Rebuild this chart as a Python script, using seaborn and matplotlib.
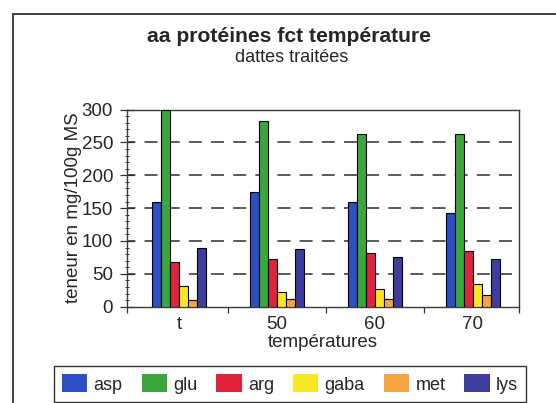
import matplotlib
matplotlib.use("Agg")
import matplotlib.pyplot as plt
from matplotlib.patches import Rectangle
from matplotlib.ticker import MultipleLocator, FixedLocator
import seaborn as sns
import pandas as pd

# amino acid contents (mg/100g MS) per treatment temperature
categories = ["t", "50", "60", "70"]
asp = [160, 174, 159, 142]
glu = [300, 283, 263, 262]
arg = [68, 72, 82, 84]
gaba = [31, 23, 27, 34]
met = [10, 12, 12, 18]
lys = [90, 88, 75, 72]

series = {"asp": asp, "glu": glu, "arg": arg, "gaba": gaba, "met": met, "lys": lys}
colors = ["#2c4fc6", "#3aa63c", "#e0233c", "#f8e824", "#f4a440", "#3d3d9e"]

rows = []
for name, vals in series.items():
    for cat, v in zip(categories, vals):
        rows.append({"temp": cat, "acide": name, "teneur": v})
df = pd.DataFrame(rows)

sns.set_theme(style="white")
plt.rcParams["font.family"] = ["Liberation Sans", "DejaVu Sans"]

W, H = 556, 403
fig = plt.figure(figsize=(W / 100, H / 100), dpi=100)
fig.patch.set_facecolor("white")

# chart area border (runs off the right and bottom edges)
fig.patches.append(Rectangle((13 / W, -0.05), (575 - 13) / W, 1.05 - 14 / H,
                             transform=fig.transFigure, fill=False,
                             edgecolor="#333333", linewidth=1.3, zorder=0))

ax = fig.add_axes([127 / W, (H - 306.7) / H, 392 / W, (306.7 - 109.5) / H])

sns.barplot(data=df, x="temp", y="teneur", hue="acide", order=categories,
            hue_order=list(series.keys()), palette=colors, width=0.55,
            gap=0, edgecolor="black", linewidth=0.8, saturation=1,
            legend=True, ax=ax, zorder=3)

ax.set_ylim(0, 300)
ax.set_xlim(-0.53, 3.47)

# dashed horizontal grid lines
for yv in range(50, 300, 50):
    ax.axhline(yv, color="#2e2e2e", linewidth=1.1,
               linestyle=(3, (8.5, 6.0)), zorder=1)

for sp in ax.spines.values():
    sp.set_color("#3a3a3a")
    sp.set_linewidth(1.0)
    sp.set_visible(True)

ax.yaxis.set_major_locator(MultipleLocator(50))
ax.yaxis.set_minor_locator(MultipleLocator(10))
ax.tick_params(axis="y", which="major", direction="inout", length=10,
               width=0.9, color="#333333", labelsize=13.5, pad=5, left=True)
ax.tick_params(axis="y", which="minor", direction="inout", length=2.5,
               width=0.7, color="#333333", left=True)

ax.xaxis.set_minor_locator(FixedLocator([-0.53, 0.5, 1.5, 2.5, 3.47]))
ax.tick_params(axis="x", which="major", length=0, labelsize=13.5, pad=6.5)
ax.tick_params(axis="x", which="minor", direction="out", length=4,
               width=0.9, color="#333333", bottom=True)

ax.set_xlabel("températures", fontsize=13.5, labelpad=1)
ax.set_ylabel("teneur en mg/100g MS", fontsize=13.5, labelpad=0)

fig.text(289 / W, 1 - 36 / H, "aa protéines fct température",
         ha="center", va="center", fontsize=15.2, fontweight="bold")
fig.text(292 / W, 1 - 57 / H, "dattes traitées",
         ha="center", va="center", fontsize=13)

handles, labels = ax.get_legend_handles_labels()
ax.get_legend().remove()
leg = fig.legend(handles, labels, loc="center", ncol=6,
                 bbox_to_anchor=(290 / W, 1 - 384 / H), fontsize=13,
                 frameon=True, fancybox=False, shadow=False,
                 handlelength=1.4, handleheight=1.15, handletextpad=0.35,
                 columnspacing=1.05, borderpad=0.45, borderaxespad=0)
leg.get_frame().set_edgecolor("black")
leg.get_frame().set_linewidth(1.0)
for h in leg.legend_handles:
    h.set_edgecolor("none")

fig.savefig("out.png", dpi=100, facecolor="white")
